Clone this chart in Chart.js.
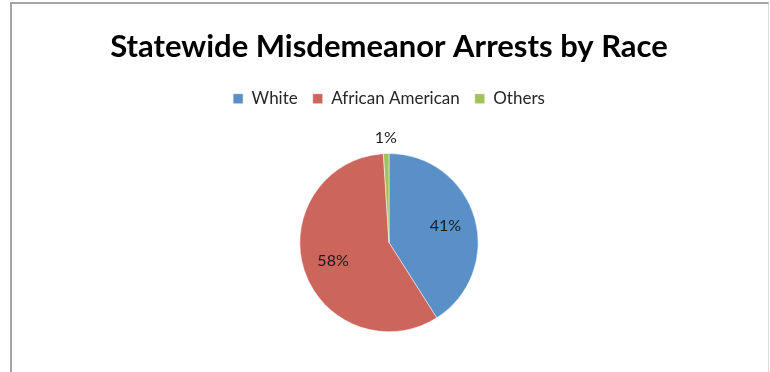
<!DOCTYPE html>
<html>
<head>
<meta charset="utf-8">
<script src="https://cdn.jsdelivr.net/npm/chart.js@4"></script>
<style>
  body { margin: 0; background: #fff; }
  #wrap { position: relative; width: 770px; height: 372px; }
  #frame { position: absolute; left: 10px; top: 2px; width: 756px; height: 368px;
           border: 1px solid #d9d9d9; border-left: 2px solid #a6a6a6; border-top: 2px solid #a6a6a6; }
  canvas { position: absolute; left: 0; top: 0; }
</style>
</head>
<body>
<div id="wrap">
  <div id="frame"></div>
  <canvas id="race-pie" width="770" height="372"></canvas>
</div>
<script>
var categories = ['White', 'African American', 'Others'];
var arrestShares = [41, 58, 1];
var sliceColors = ['#5990c8', '#cc655b', '#a2c25c'];

// draw the percent labels on (or next to) each slice
var percentLabels = {
    id: 'percentLabels',
    afterDatasetsDraw: function (chart) {
        var ctx = chart.ctx;
        var meta = chart.getDatasetMeta(0);
        ctx.save();
        ctx.font = '16px Lato';
        ctx.fillStyle = '#1a1a1a';
        ctx.textAlign = 'center';
        ctx.textBaseline = 'middle';
        meta.data.forEach(function (arc, i) {
            var mid = (arc.startAngle + arc.endAngle) / 2;
            var r = arc.outerRadius * 0.66;
            if (arrestShares[i] < 5) r = arc.outerRadius + 16;
            var x = arc.x + Math.cos(mid) * r;
            var y = arc.y + Math.sin(mid) * r;
            ctx.fillText(arrestShares[i] + '%', x, y);
        });
        ctx.restore();
    }
};

// extra room between legend and pie
var legendGap = {
    id: 'legendGap',
    beforeInit: function (chart) {
        var fit = chart.legend.fit;
        chart.legend.fit = function () {
            fit.bind(chart.legend)();
            this.height += 36;
        };
    }
};

var pieContext = document.getElementById('race-pie').getContext('2d');
var pieChart = new Chart(pieContext, {
    type: 'pie',
    data: {
        labels: categories,
        datasets: [{
            data: arrestShares,
            backgroundColor: sliceColors,
            borderColor: '#ffffff',
            borderWidth: 0.5
        }]
    },
    options: {
        responsive: false,
        animation: false,
        layout: { padding: { left: 8, right: 0, top: 0, bottom: 40 } },
        plugins: {
            title: {
                display: true,
                text: 'Statewide Misdemeanor Arrests by Race',
                color: '#000000',
                font: { family: 'Lato', size: 31, weight: 'bold' },
                padding: { top: 28, bottom: 10 }
            },
            legend: {
                position: 'top',
                labels: {
                    color: '#262626',
                    font: { family: 'Lato', size: 17 },
                    boxWidth: 10,
                    boxHeight: 10,
                    padding: 15
                }
            },
            tooltip: { enabled: false }
        }
    },
    plugins: [percentLabels, legendGap]
});
</script>
</body>
</html>
